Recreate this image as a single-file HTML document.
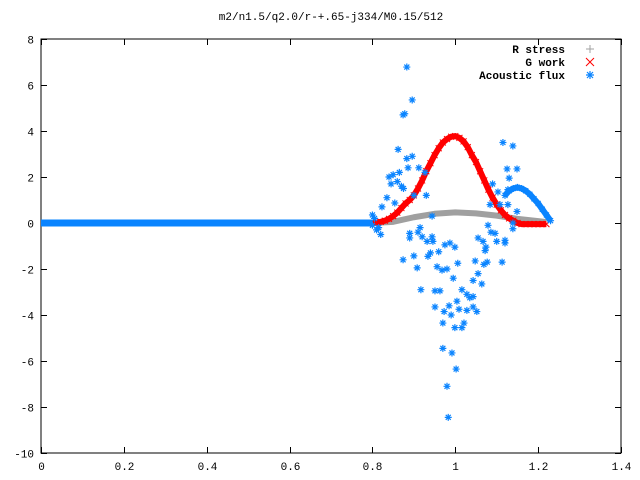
<!DOCTYPE html>
<html><head><meta charset="utf-8"><style>
html,body{margin:0;padding:0;background:#fff;}
svg{display:block;}
text{font-family:"Liberation Mono","DejaVu Sans Mono",monospace;font-size:11px;fill:#000;}
</style></head><body>
<svg id="chart" width="640" height="480" xmlns="http://www.w3.org/2000/svg">
<rect width="640" height="480" fill="#fff"/>
<text x="331" y="20" text-anchor="middle">m2/n1.5/q2.0/r-+.65-j334/M0.15/512</text>
<g id="axes"></g>
<g id="series"></g>
<g id="legend">
<text x="565" y="53" text-anchor="end" font-weight="bold">R stress</text>
<text x="565" y="66" text-anchor="end" font-weight="bold">G work</text>
<text x="565" y="79" text-anchor="end" font-weight="bold">Acoustic flux</text>
</g>
</svg>
<script>
const xTicks=[0,0.2,0.4,0.6,0.8,1,1.2,1.4];
const xTickLabels=["0","0.2","0.4","0.6","0.8","1","1.2","1.4"];
const yTicks=[-10,-8,-6,-4,-2,0,2,4,6,8];
const yTickLabels=["-10","-8","-6","-4","-2","0","2","4","6","8"];
const greyX=[0,0.8,0.85,0.9,0.95,1.0,1.05,1.1,1.15,1.2,1.22];
const greyY=[0,0,0.05,0.25,0.4,0.46,0.42,0.32,0.18,0.08,0.04];
const redX=[0.80,0.81,0.82,0.83,0.84,0.85,0.86,0.87,0.88,0.89,0.90,0.91,0.92,0.93,0.94,0.95,0.96,0.97,0.98,0.99,1.00,1.01,1.02,1.03,1.04,1.05,1.06,1.07,1.08,1.09,1.10,1.11,1.12,1.13,1.14,1.15,1.16,1.17,1.18,1.19,1.20,1.21,1.22];
const redY=[0.0,0.02,0.05,0.1,0.18,0.3,0.45,0.65,0.85,1.0,1.2,1.5,1.85,2.25,2.6,2.95,3.25,3.5,3.65,3.75,3.78,3.7,3.55,3.3,2.95,2.65,2.25,1.85,1.45,1.1,0.8,0.55,0.35,0.2,0.1,0.0,-0.05,-0.05,-0.05,-0.05,-0.05,-0.05,-0.05];
const blueFlatX=[0,0.8];
const blueFlatY=[0,0];
const blueArcX=[1.12,1.13,1.14,1.15,1.16,1.17,1.18,1.19,1.20,1.21,1.22,1.23];
const blueArcY=[1.2,1.4,1.5,1.55,1.5,1.4,1.25,1.05,0.85,0.6,0.35,0.1];
const blueX=[0.883,0.896,0.874,0.878,0.862,0.883,0.896,0.886,0.912,0.84,0.85,0.86,0.87,0.845,0.865,0.875,0.93,0.927,0.9,0.835,0.854,0.823,0.80,0.944,1.115,1.139,1.125,1.149,1.13,1.09,1.127,1.103,1.084,1.108,1.127,1.149,
0.89,0.89,0.915,0.91,0.92,0.944,0.932,0.946,0.975,0.987,0.999,0.96,0.94,0.934,0.874,0.9,0.908,0.956,0.968,0.98,1.006,0.995,0.917,0.951,0.963,1.016,1.028,1.035,1.043,1.004,0.951,0.985,1.009,1.028,1.043,1.052,0.973,0.99,0.97,0.999,1.016,1.021,0.97,0.992,1.002,0.98,0.983,
1.048,1.077,1.069,1.113,1.055,1.064,1.043,1.072,1.074,1.055,1.067,1.079,1.086,1.096,1.1,1.12,1.12,1.139,1.139,0.80,0.81,0.82,0.805,0.815];
const blueY=[6.78,5.35,4.7,4.75,3.2,2.8,2.9,2.4,2.4,2.0,2.1,1.8,1.6,1.7,2.2,1.5,1.2,2.2,1.2,1.1,0.87,0.7,0.35,0.3,3.5,3.35,2.35,2.35,1.95,1.7,1.45,1.35,0.8,0.8,0.8,0.5,
-0.45,-0.65,-0.2,-0.4,-0.6,-0.6,-0.8,-0.8,-0.95,-0.87,-1.05,-1.25,-1.3,-1.45,-1.6,-1.43,-1.95,-1.9,-2.05,-2.0,-1.75,-2.4,-2.9,-2.95,-2.95,-2.9,-3.1,-3.25,-3.2,-3.4,-3.65,-3.6,-3.75,-3.8,-3.65,-3.85,-3.85,-4.0,-4.35,-4.55,-4.55,-4.35,-5.45,-5.65,-6.35,-7.1,-8.45,
-1.65,-1.7,-1.8,-1.7,-2.2,-2.65,-2.5,-1.2,-1.05,-0.65,-0.8,-0.1,-0.4,-0.45,-0.8,-0.87,-0.75,-0.25,0.0,-0.1,-0.3,-0.5,0.2,-0.2];

const X0=41,X1=621,Y0=453,Y1=39;
const sx=v=>X0+(v-0)/(1.4-0)*(X1-X0);
const sy=v=>Y0-(v-(-10))/(8-(-10))*(Y0-Y1);
const NS="http://www.w3.org/2000/svg";
function mk(tag,attrs,parent){const e=document.createElementNS(NS,tag);for(const k in attrs)e.setAttribute(k,attrs[k]);parent.appendChild(e);return e;}
const axes=document.getElementById('axes');
const series=document.getElementById('series');
const frame=mk('rect',{x:X0,y:Y1,width:X1-X0,height:Y0-Y1,fill:'none',stroke:'#000','stroke-width':1},axes);


xTicks.forEach((v,i)=>{const x=Math.round(sx(v))+0.5;
 const t=mk('path',{d:`M${x},${Y0}v-6M${x},${Y1}v6`,stroke:'#000','stroke-width':1},axes);
 
 
 const l=mk('text',{x:x,y:Y0+17,'text-anchor':'middle'},axes);l.textContent=xTickLabels[i];
 
 });
yTicks.forEach((v,i)=>{const y=Math.round(sy(v))+0.5;
 const t=mk('path',{d:`M${X0},${y}h6M${X1},${y}h-6`,stroke:'#000','stroke-width':1},axes);
 
 
 const l=mk('text',{x:X0-7,y:y+4,'text-anchor':'end'},axes);l.textContent=yTickLabels[i];
 
 });
function poly(xs,ys,color,w,name){const p=mk('polyline',{points:xs.map((x,i)=>sx(x)+','+sy(ys[i])).join(' '),fill:'none',stroke:color,'stroke-width':w,'stroke-linejoin':'round'},series);
 
 return p;}
function star(x,y,c,name){const s=3.5;const g=mk('path',{d:`M${x-s},${y}h${2*s}M${x},${y-s}v${2*s}M${x-s+1},${y-s+1}l${2*s-2},${2*s-2}M${x-s+1},${y+s-1}l${2*s-2},${-2*s+2}`,stroke:c,'stroke-width':1.2},series);
 
 }
function cross(x,y,c,name){const s=3;const g=mk('path',{d:`M${x-s},${y-s}l${2*s},${2*s}M${x-s},${y+s}l${2*s},${-2*s}`,stroke:c,'stroke-width':1},series);
 
 }
poly(greyX,greyY,'#a0a0a0',6,'r-stress-line');
poly(redX,redY,'#ff0000',6,'g-work-line');
redX.forEach((x,i)=>cross(sx(x),sy(redY[i]),'#ff0000','g-work-point'));
poly(blueFlatX,blueFlatY,'#0a84ff',7,'acoustic-flux-flat');
poly(blueArcX,blueArcY,'#0a84ff',6,'acoustic-flux-arc');
blueArcX.forEach((x,i)=>star(sx(x),sy(blueArcY[i]),'#0a84ff','acoustic-flux-arc-point'));
blueX.forEach((x,i)=>star(sx(x),sy(blueY[i]),'#0a84ff','acoustic-flux-point'));
// legend markers
const lg=document.getElementById('legend');
const m1=mk('path',{d:'M586,49h8M590,45v8',stroke:'#a0a0a0','stroke-width':1},lg);


const m2=mk('path',{d:'M586,58l8,8M586,66l8,-8',stroke:'#ff0000','stroke-width':1},lg);


const m3=mk('path',{d:'M586,75h8M590,71v8M587,72l6,6M587,78l6,-6',stroke:'#0a84ff','stroke-width':1.2},lg);


</script>
</body></html>
